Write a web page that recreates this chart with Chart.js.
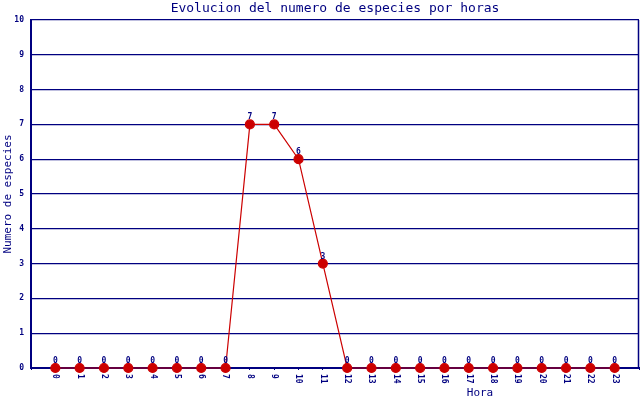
<!DOCTYPE html>
<html>
<head>
<meta charset="utf-8">
<script src="https://cdn.jsdelivr.net/npm/chart.js@4/dist/chart.umd.min.js"></script>
<style>
  body { margin: 0; background: #fff; }
  #chart { display: block; }
</style>
</head>
<body>
<canvas id="chart" width="640" height="400"></canvas>
<script>
// Hours of the day (blank slots at each end leave a gap like the original)
const hours = ['', '0', '1', '2', '3', '4', '5', '6', '7', '8', '9', '10', '11',
               '12', '13', '14', '15', '16', '17', '18', '19', '20', '21', '22', '23', ''];
// Number of species seen each hour
const species = [null, 0, 0, 0, 0, 0, 0, 0, 0, 7, 7, 6, 3,
                 0, 0, 0, 0, 0, 0, 0, 0, 0, 0, 0, 0, null];
const yTicks = [0, 1, 2, 3, 4, 5, 6, 7, 8, 9, 10];

const navy = '#000080';
const red = '#cc0000';
const mono = '"DejaVu Sans Mono", "Liberation Mono", monospace';

// Draws the titles, hour labels (rotated clockwise), point values and right border
const extras = {
    id: 'extras',
    afterDraw(chart) {
        const ctx = chart.ctx;
        const area = chart.chartArea;
        const x = chart.scales.x;
        ctx.save();

        // right border
        ctx.strokeStyle = navy;
        ctx.lineWidth = 1.5;
        ctx.beginPath();
        ctx.moveTo(area.right - 0.5, area.top);
        ctx.lineTo(area.right - 0.5, area.bottom);
        ctx.stroke();

        ctx.fillStyle = navy;

        // chart title
        ctx.font = '13px ' + mono;
        ctx.textAlign = 'center';
        ctx.textBaseline = 'middle';
        ctx.fillText('Evolucion del numero de especies por horas', (area.left + area.right) / 2, 9);

        // axis titles
        ctx.font = '11px ' + mono;
        ctx.fillText('Hora', 480, 393);
        ctx.save();
        ctx.translate(8, (area.top + area.bottom) / 2);
        ctx.rotate(-Math.PI / 2);
        ctx.fillText('Numero de especies', 0, 0);
        ctx.restore();

        // hour labels
        ctx.font = 'bold 8px ' + mono;
        hours.forEach(function(h, i) {
            if (h === '') return;
            ctx.save();
            ctx.translate(x.getPixelForValue(i), area.bottom + 6);
            ctx.rotate(Math.PI / 2);
            ctx.textAlign = 'left';
            ctx.textBaseline = 'middle';
            ctx.fillText(h, 0, 0);
            ctx.restore();
        });

        // values above points
        const meta = chart.getDatasetMeta(0);
        ctx.font = 'bold 8px ' + mono;
        ctx.textAlign = 'center';
        ctx.textBaseline = 'bottom';
        meta.data.forEach(function(pt, i) {
            if (species[i] === null) return;
            ctx.fillText(String(species[i]), pt.x, pt.y - 3);
        });

        ctx.restore();
    }
};

const ctx = document.getElementById('chart').getContext('2d');
const speciesChart = new Chart(ctx, {
    type: 'line',
    data: {
        labels: hours,
        datasets: [{
            data: species,
            borderColor: red,
            borderWidth: 1.2,
            backgroundColor: red,
            pointBackgroundColor: red,
            pointBorderColor: red,
            pointRadius: 4.5,
            tension: 0,
            spanGaps: false,
            clip: false
        }]
    },
    options: {
        responsive: false,
        animation: false,
        layout: { autoPadding: false, padding: { top: 20, right: 1, left: 0, bottom: 0 } },
        plugins: {
            legend: { display: false },
            title: { display: false },
            tooltip: { enabled: false }
        },
        scales: {
            x: {
                type: 'category',
                offset: false,
                afterFit(scale) {
                    scale.height = 32;
                    scale.paddingLeft = 0;
                    scale.paddingRight = 0;
                },
                grid: {
                    drawOnChartArea: false,
                    drawTicks: true,
                    tickLength: 2,
                    color: navy
                },
                border: { color: navy, width: 2 },
                ticks: { display: false, autoSkip: false }
            },
            y: {
                min: 0,
                max: 10,
                afterFit(scale) { scale.width = 31; },
                afterBuildTicks(scale) {
                    scale.ticks = yTicks.map(function(v) { return { value: v }; });
                },
                grid: {
                    color: navy,
                    lineWidth: 1.3,
                    drawTicks: false
                },
                border: { color: navy, width: 2 },
                ticks: {
                    color: navy,
                    padding: 7,
                    font: { family: mono, size: 8, weight: 'bold' }
                }
            }
        }
    },
    plugins: [extras]
});
</script>
</body>
</html>
